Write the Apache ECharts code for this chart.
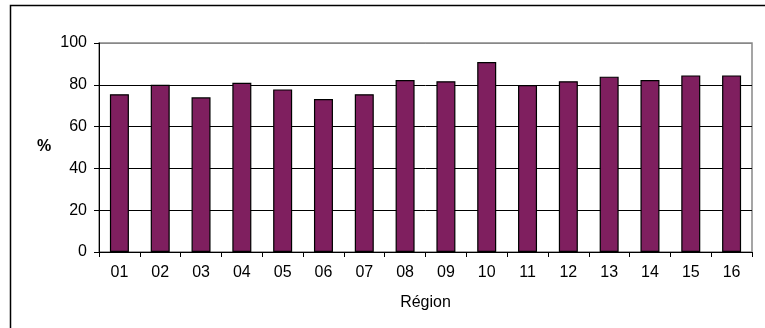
<!DOCTYPE html>
<html>
<head>
<meta charset="utf-8">
<script src="https://cdn.jsdelivr.net/npm/echarts@6/dist/echarts.min.js"></script>
<style>
  html, body { margin: 0; padding: 0; background: #fff; }
  #main { width: 765px; height: 328px; }
</style>
</head>
<body>
<div id="main"></div>
<script>
// données
var regions = ['01', '02', '03', '04', '05', '06', '07', '08', '09', '10', '11', '12', '13', '14', '15', '16'];
var pourcentages = [75.5, 80.0, 74.0, 81.0, 77.8, 73.2, 75.5, 82.3, 81.7, 90.9, 79.9, 81.7, 83.9, 82.3, 84.5, 84.5];
var yTicks = [0, 20, 40, 60, 80, 100];

var myChart = echarts.init(document.getElementById('main'));

var option = {
    animation: false,
    textStyle: { fontFamily: 'Liberation Sans, Arial, sans-serif' },
    // cadre extérieur
    graphic: [{
        type: 'rect',
        left: 8,
        top: 3,
        shape: { width: 800, height: 400 },
        style: { fill: 'none', stroke: '#000', lineWidth: 1.5 },
        silent: true
    }, {
        type: 'text',
        left: 37,
        top: 139,
        style: { text: '%', fontSize: 16, fontWeight: 'bold', fill: '#000', fontFamily: 'Liberation Sans, Arial, sans-serif' }
    }],
    grid: {
        left: 99,
        right: 13,
        top: 43,
        bottom: 76,
        show: true,
        borderColor: '#888',
        borderWidth: 1.5
    },
    xAxis: {
        type: 'category',
        data: regions,
        name: 'Région',
        nameLocation: 'middle',
        nameGap: 43,
        nameTextStyle: { fontSize: 16, color: '#000' },
        axisLine: { lineStyle: { color: '#000', width: 1 } },
        axisTick: { show: true, length: 5, lineStyle: { color: '#000' } },
        axisLabel: { fontSize: 16, color: '#000', margin: 13 }
    },
    yAxis: {
        type: 'value',
        min: yTicks[0],
        max: yTicks[yTicks.length - 1],
        interval: 20,
        axisLine: { show: true, lineStyle: { color: '#000', width: 1 } },
        axisTick: { show: true, length: 5, lineStyle: { color: '#000' } },
        axisLabel: { fontSize: 16, color: '#000', margin: 12 },
        splitLine: { lineStyle: { color: ['#000', '#000', '#000', '#000', '#000', '#888'], width: 1 } }
    },
    series: [{
        name: '%',
        type: 'bar',
        data: pourcentages,
        barWidth: 19,
        itemStyle: { color: '#7f1f5f', borderColor: '#000', borderWidth: 1.2 }
    }]
};

myChart.setOption(option);
</script>
</body>
</html>
